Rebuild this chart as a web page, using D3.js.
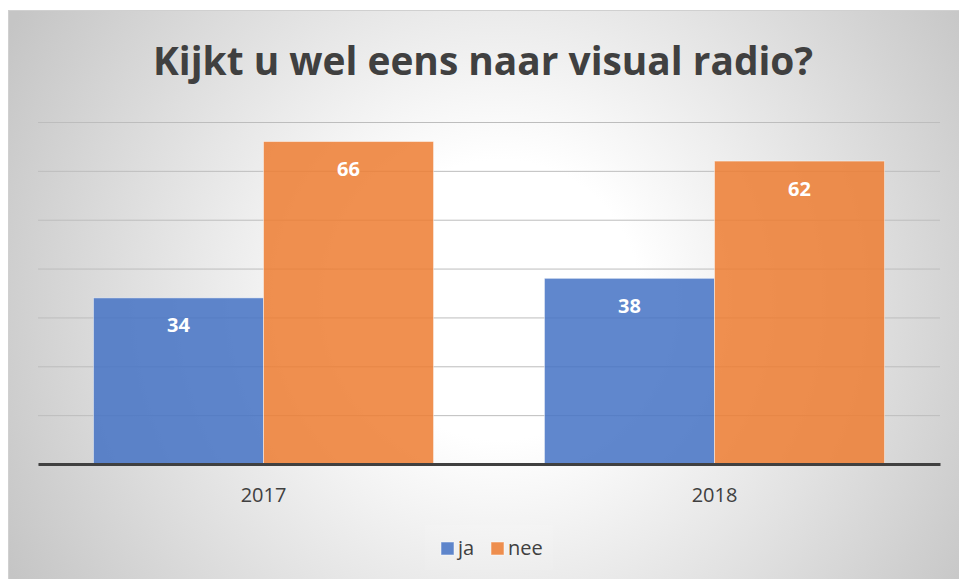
<!DOCTYPE html>
<html>
<head>
<meta charset="utf-8">
<script src="https://cdn.jsdelivr.net/npm/d3@7"></script>
<style>
  html, body { margin: 0; padding: 0; background: #ffffff; }
  svg { display: block; }
</style>
</head>
<body>
<svg id="chart" width="959" height="579"></svg>
<script>
const titleText = "Kijkt u wel eens naar visual radio?";
const categories = ["2017", "2018"];
const seriesNames = ["ja", "nee"];
const jaValues = [34, 38];
const neeValues = [66, 62];
const yTicks = [0, 10, 20, 30, 40, 50, 60, 70];
const seriesColors = ["#4472C4", "#ED7D31"];

const data = categories.map((c, i) => ({ cat: c, values: [jaValues[i], neeValues[i]] }));

const svg = d3.select("#chart");
const FONT = "'Open Sans', 'Noto Sans', sans-serif";

// background with radial gradient
const defs = svg.append("defs");
const grad = defs.append("radialGradient")
  .attr("id", "bg").attr("gradientUnits", "userSpaceOnUse")
  .attr("cx", 500).attr("cy", 300).attr("r", 560);
grad.append("stop").attr("offset", 0).attr("stop-color", "#ffffff");
grad.append("stop").attr("offset", 0.25).attr("stop-color", "#ffffff");
grad.append("stop").attr("offset", 1).attr("stop-color", "#c5c5c5");

svg.append("rect").attr("x", 8.5).attr("y", 10.5).attr("width", 960).attr("height", 580)
  .attr("fill", "url(#bg)").attr("stroke", "#d0d0d0").attr("stroke-width", 1);

// scales
const x0 = d3.scaleBand().domain(categories).range([38, 940]).paddingInner(0).paddingOuter(0);
const groupPad = 0.246;
const x1 = d3.scaleBand().domain(seriesNames)
  .range([x0.bandwidth() * groupPad / 2, x0.bandwidth() * (1 - groupPad / 2)])
  .padding(0);
const y = d3.scaleLinear().domain([0, 70]).range([464, 122]);

// gridlines
const yAxis = d3.axisLeft(y).tickValues(yTicks).tickSize(-(940 - 38)).tickFormat("");
const gGrid = svg.append("g").attr("transform", "translate(38,0)").call(yAxis);
gGrid.select(".domain").remove();
gGrid.selectAll(".tick line").attr("stroke", "#bdbdbd").attr("stroke-width", 1);

// bars
const groups = svg.append("g").selectAll("g").data(data).join("g")
  .attr("transform", d => `translate(${x0(d.cat)},0)`);

groups.selectAll("rect").data(d => d.values.map((v, i) => ({ key: seriesNames[i], v, i })))
  .join("rect")
  .attr("x", d => x1(d.key))
  .attr("y", d => y(d.v))
  .attr("width", x1.bandwidth())
  .attr("height", d => y(0) - y(d.v))
  .attr("fill", d => seriesColors[d.i])
  .attr("fill-opacity", 0.85)
  .attr("stroke", "rgba(255,255,255,0.45)")
  .attr("stroke-width", 1);

groups.selectAll("text").data(d => d.values.map((v, i) => ({ key: seriesNames[i], v, i })))
  .join("text")
  .attr("x", d => x1(d.key) + x1.bandwidth() / 2)
  .attr("y", d => y(d.v) + 34.5)
  .attr("text-anchor", "middle")
  .attr("font-family", FONT)
  .attr("font-weight", "bold")
  .attr("font-size", 20)
  .attr("fill", "#ffffff")
  .text(d => d.v);

// x axis baseline and labels
const xAxis = d3.axisBottom(x0).tickSize(0).tickPadding(0);
const gX = svg.append("g").attr("transform", `translate(0,${y(0)})`).call(xAxis);
gX.select(".domain").attr("stroke", "#404040").attr("stroke-width", 3);
gX.selectAll(".tick text")
  .attr("y", 38).attr("dy", null)
  .attr("font-family", FONT).attr("font-size", 20).attr("fill", "#404040");

// title
const title = svg.append("text")
  .attr("x", 483).attr("y", 75)
  .attr("text-anchor", "middle")
  .attr("font-family", FONT)
  .attr("font-weight", "bold")
  .attr("font-size", 40)
  .attr("fill", "#404040")
  .text(titleText);
const tw = title.node().getComputedTextLength();
title.attr("font-size", 40 * 660 / tw);

// legend
const lg = svg.append("g");
lg.append("rect").attr("x", 425).attr("y", 525).attr("width", 128).attr("height", 45)
  .attr("fill", "#ffffff").attr("fill-opacity", 0.08);
const legendX = [441, 491];
seriesNames.forEach((s, i) => {
  lg.append("rect").attr("x", legendX[i]).attr("y", 542).attr("width", 13).attr("height", 13)
    .attr("fill", seriesColors[i]).attr("fill-opacity", 0.85)
    .attr("stroke", "rgba(255,255,255,0.5)");
  lg.append("text").attr("x", legendX[i] + 17).attr("y", 555)
    .attr("font-family", FONT).attr("font-size", 20).attr("fill", "#404040")
    .text(s);
});
</script>
</body>
</html>
